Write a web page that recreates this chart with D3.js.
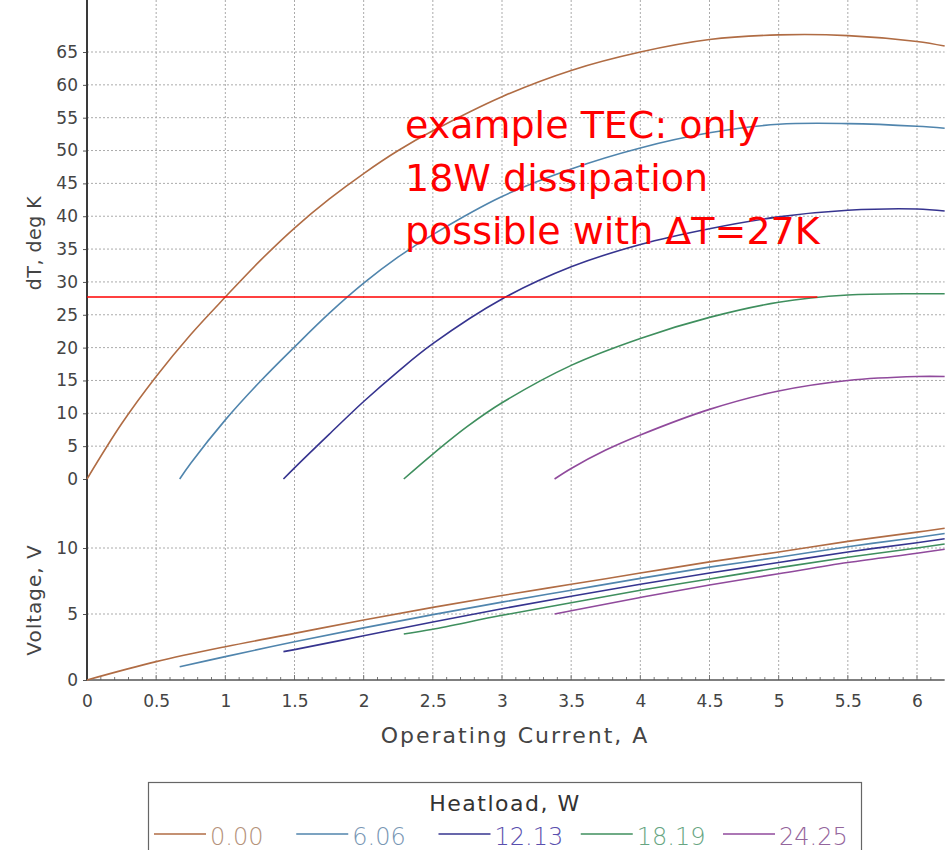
<!DOCTYPE html>
<html>
<head>
<meta charset="utf-8">
<script src="https://cdn.jsdelivr.net/npm/d3@7"></script>
<style>
  body { margin: 0; background: #fff; }
  svg { display: block; }
</style>
</head>
<body>
<div id="chart"></div>
<script>
/* TEC performance chart: dT and voltage vs operating current */

// Heatload series (W) and colours
var heatloads = ["0.00", "6.06", "12.13", "18.19", "24.25"];
var lineColors = ["#b06c44", "#5085ad", "#36348f", "#3f8f5e", "#904a9c"];
var labelColors = ["#b4927a", "#7896b4", "#5a4fae", "#67a582", "#94659c"];

// dT curves (current in A, dT in K)
var cur_dT_0 = [0, 0.25, 0.5, 0.75, 1, 1.25, 1.5, 1.75, 2, 2.25, 2.5, 3, 3.5, 4, 4.5, 5, 5.5, 6, 6.2];
var dT_0     = [0, 8.4, 15.6, 22.0, 27.7, 33.2, 38.2, 42.6, 46.5, 50.0, 53.0, 58.2, 62.2, 65.0, 66.9, 67.6, 67.5, 66.6, 65.9];
var cur_dT_1 = [0.67, 0.75, 1, 1.25, 1.5, 1.75, 2, 2.25, 2.5, 3, 3.5, 4, 4.5, 5, 5.5, 6, 6.2];
var dT_1     = [0, 2.4, 9.0, 14.8, 20.1, 25.2, 29.8, 33.8, 37.2, 43.0, 47.2, 50.4, 52.7, 54.0, 54.1, 53.7, 53.4];
var cur_dT_2 = [1.42, 1.5, 1.75, 2, 2.25, 2.5, 3, 3.5, 4, 4.5, 5, 5.5, 6, 6.2];
var dT_2     = [0, 1.7, 6.8, 11.8, 16.4, 20.6, 27.4, 32.3, 35.7, 38.1, 39.9, 40.9, 41.1, 40.8];
var cur_dT_3 = [2.29, 2.5, 2.75, 3, 3.5, 4, 4.5, 5, 5.5, 6, 6.2];
var dT_3     = [0, 3.8, 8.0, 11.6, 17.3, 21.4, 24.6, 26.9, 28.0, 28.2, 28.2];
var cur_dT_4 = [3.38, 3.5, 3.75, 4, 4.5, 5, 5.5, 6, 6.2];
var dT_4     = [0, 1.6, 4.4, 6.7, 10.6, 13.4, 15.0, 15.6, 15.6];

// Voltage curves (current in A, voltage in V)
var cur_V_0 = [0, 0.5, 1, 1.5, 2, 2.5, 3, 3.5, 4, 4.5, 5, 5.5, 6, 6.2];
var volt_0  = [0, 1.39, 2.52, 3.53, 4.55, 5.5, 6.4, 7.25, 8.1, 8.95, 9.7, 10.5, 11.2, 11.5];
var cur_V_1 = [0.67, 1, 1.5, 2, 2.5, 3, 3.5, 4, 4.5, 5, 5.5, 6, 6.2];
var volt_1  = [1.0, 1.77, 2.9, 3.95, 4.95, 5.9, 6.8, 7.7, 8.55, 9.3, 10.1, 10.8, 11.1];
var cur_V_2 = [1.42, 1.5, 2, 2.5, 3, 3.5, 4, 4.5, 5, 5.5, 6, 6.2];
var volt_2  = [2.15, 2.3, 3.35, 4.4, 5.4, 6.35, 7.25, 8.1, 8.9, 9.7, 10.4, 10.7];
var cur_V_3 = [2.29, 2.5, 3, 3.5, 4, 4.5, 5, 5.5, 6, 6.2];
var volt_3  = [3.48, 3.85, 4.9, 5.85, 6.8, 7.65, 8.5, 9.3, 10.0, 10.3];
var cur_V_4 = [3.38, 3.5, 4, 4.5, 5, 5.5, 6, 6.2];
var volt_4  = [5.0, 5.25, 6.25, 7.2, 8.05, 8.9, 9.6, 9.9];

// Axis ticks
var xTicks = [0, 0.5, 1, 1.5, 2, 2.5, 3, 3.5, 4, 4.5, 5, 5.5, 6];
var dTTicks = [0, 5, 10, 15, 20, 25, 30, 35, 40, 45, 50, 55, 60, 65];
var vTicks = [0, 5, 10];

// Annotation
var markerDT = 27.7;      // red guide line level
var markerEnd = 5.28;     // red guide line ends at this current
var noteLines = ["example TEC: only", "18W dissipation", "possible with \u0394T=27K"];

// build series tables
function zip(xs, ys) {
  return xs.map(function (x, i) { return { x: x, y: ys[i] }; });
}
var dTSeries = [zip(cur_dT_0, dT_0), zip(cur_dT_1, dT_1), zip(cur_dT_2, dT_2), zip(cur_dT_3, dT_3), zip(cur_dT_4, dT_4)];
var vSeries = [zip(cur_V_0, volt_0), zip(cur_V_1, volt_1), zip(cur_V_2, volt_2), zip(cur_V_3, volt_3), zip(cur_V_4, volt_4)];

// --- size and scales ---
var width = 949, height = 850;
var font = "'DejaVu Sans', sans-serif";

var x = d3.scaleLinear().domain([0, 6]).range([87, 917]);
var yT = d3.scaleLinear().domain([0, 65]).range([479, 52]);
var yV = d3.scaleLinear().domain([0, 10]).range([680, 548]);

var xMax = 6.2, dTMax = 71.5;
var left = x(0), right = x(xMax), top = yT(dTMax), bottom = yV(0);

var svg = d3.select("#chart").append("svg")
  .attr("width", width)
  .attr("height", height)
  .attr("viewBox", [0, 0, width, height]);

// --- grid ---
var grid = svg.append("g").attr("stroke", "#ababab").attr("stroke-width", 1).attr("stroke-dasharray", "2,2");
grid.selectAll("line.v").data(xTicks.filter(function (d) { return d > 0; }))
  .join("line").attr("class", "v")
  .attr("x1", function (d) { return x(d); }).attr("x2", function (d) { return x(d); })
  .attr("y1", top).attr("y2", bottom);
grid.selectAll("line.t").data(dTTicks.filter(function (d) { return d > 0; }))
  .join("line").attr("class", "t")
  .attr("x1", left).attr("x2", right)
  .attr("y1", function (d) { return yT(d); }).attr("y2", function (d) { return yT(d); });
grid.selectAll("line.w").data(vTicks.filter(function (d) { return d > 0; }))
  .join("line").attr("class", "w")
  .attr("x1", left).attr("x2", right)
  .attr("y1", function (d) { return yV(d); }).attr("y2", function (d) { return yV(d); });

// --- frame ---
svg.append("rect")
  .attr("x", left).attr("y", top)
  .attr("width", right - left).attr("height", bottom - top)
  .attr("fill", "none").attr("stroke", "#707070").attr("stroke-width", 1.5);

// --- axes ---
function styleAxis(g) {
  g.select(".domain").remove();
  g.selectAll("text").attr("font-family", font).attr("font-size", 17).attr("fill", "#444");
  g.selectAll("line").attr("stroke", "#555");
}

svg.append("g")
  .attr("transform", "translate(" + left + ",0)")
  .call(d3.axisLeft(yT).tickValues(dTTicks).tickSize(4).tickPadding(5).tickFormat(d3.format("d")))
  .call(styleAxis);

svg.append("g")
  .attr("transform", "translate(" + left + ",0)")
  .call(d3.axisLeft(yV).tickValues(vTicks).tickSize(4).tickPadding(5).tickFormat(d3.format("d")))
  .call(styleAxis);

svg.append("g")
  .attr("transform", "translate(0," + bottom + ")")
  .call(d3.axisBottom(x).tickValues(xTicks).tickSize(0).tickPadding(15).tickFormat(d3.format("~g")))
  .call(styleAxis);

// minor ticks along the bottom
var minor = d3.range(1, 62).map(function (i) { return i / 10; });
svg.append("g").attr("stroke", "#777").selectAll("line").data(minor).join("line")
  .attr("x1", function (d) { return x(d); }).attr("x2", function (d) { return x(d); })
  .attr("y1", bottom).attr("y2", function (d, i) { return bottom - ((i + 1) % 5 === 0 ? 5 : 3); });

// darker left axis line
svg.append("line")
  .attr("x1", left).attr("x2", left).attr("y1", top).attr("y2", bottom)
  .attr("stroke", "#3a3a3a").attr("stroke-width", 2);
svg.append("line")
  .attr("x1", left).attr("x2", right).attr("y1", bottom).attr("y2", bottom)
  .attr("stroke", "#555").attr("stroke-width", 1.5);

// axis titles
svg.append("text")
  .attr("transform", "translate(35,243) rotate(-90)")
  .attr("text-anchor", "middle").attr("dominant-baseline", "middle")
  .attr("font-family", font).attr("font-size", 19).attr("letter-spacing", 0.5).attr("fill", "#444")
  .text("dT, deg K");
svg.append("text")
  .attr("transform", "translate(35,600) rotate(-90)")
  .attr("text-anchor", "middle").attr("dominant-baseline", "middle")
  .attr("font-family", font).attr("font-size", 20).attr("letter-spacing", 1).attr("fill", "#444")
  .text("Voltage, V");
svg.append("text")
  .attr("x", 515).attr("y", 743)
  .attr("text-anchor", "middle")
  .attr("font-family", font).attr("font-size", 22).attr("letter-spacing", 2).attr("fill", "#444")
  .text("Operating Current, A");

// --- curves ---
var lineT = d3.line().x(function (d) { return x(d.x); }).y(function (d) { return yT(d.y); }).curve(d3.curveCatmullRom.alpha(0.5));
var lineV = d3.line().x(function (d) { return x(d.x); }).y(function (d) { return yV(d.y); }).curve(d3.curveCatmullRom.alpha(0.5));

svg.append("g").selectAll("path").data(dTSeries).join("path")
  .attr("d", lineT).attr("fill", "none")
  .attr("stroke", function (d, i) { return lineColors[i]; })
  .attr("stroke-width", 1.6);

svg.append("g").selectAll("path").data(vSeries).join("path")
  .attr("d", lineV).attr("fill", "none")
  .attr("stroke", function (d, i) { return lineColors[i]; })
  .attr("stroke-width", 1.6);

// --- annotation ---
svg.append("line")
  .attr("x1", x(0)).attr("x2", x(markerEnd))
  .attr("y1", yT(markerDT)).attr("y2", yT(markerDT))
  .attr("stroke", "#ff0000").attr("stroke-width", 1.5);

svg.append("g").selectAll("text").data(noteLines).join("text")
  .attr("x", 405)
  .attr("y", function (d, i) { return 138 + i * 53; })
  .attr("font-family", font).attr("font-size", 38).attr("fill", "#ff0000")
  .text(function (d) { return d; });

// --- legend ---
var legend = svg.append("g");
legend.append("rect")
  .attr("x", 148.5).attr("y", 782.5).attr("width", 713).attr("height", 90)
  .attr("fill", "#fff").attr("stroke", "#666").attr("stroke-width", 1.2);
legend.append("text")
  .attr("x", 505).attr("y", 811).attr("text-anchor", "middle")
  .attr("font-family", font).attr("font-size", 22).attr("letter-spacing", 1.5).attr("fill", "#333")
  .text("Heatload, W");

var lx = d3.scalePoint().domain(heatloads).range([154, 723]);
var items = legend.selectAll("g.item").data(heatloads).join("g").attr("class", "item")
  .attr("transform", function (d) { return "translate(" + lx(d) + ",0)"; });
items.append("line")
  .attr("x1", 0).attr("x2", 52).attr("y1", 834).attr("y2", 834)
  .attr("stroke", function (d, i) { return lineColors[i]; }).attr("stroke-width", 1.4);
items.append("text")
  .attr("x", 56).attr("y", 845)
  .attr("font-family", font).attr("font-size", 24).attr("font-weight", 200)
  .attr("fill", function (d, i) { return labelColors[i]; })
  .text(function (d) { return d; });
</script>
</body>
</html>
